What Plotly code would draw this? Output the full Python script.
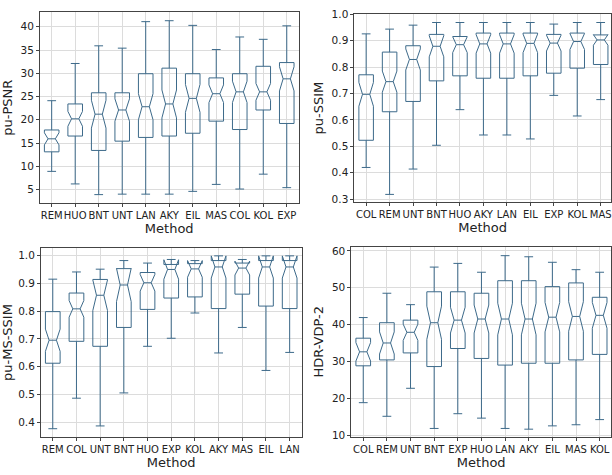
import plotly.graph_objects as go

# ---- pu-PSNR ----
psnr_methods = ["REM", "HUO", "BNT", "UNT", "LAN", "AKY", "EIL", "MAS", "COL", "KOL", "EXP"]
psnr_q1 = [13.1, 16.5, 13.4, 15.4, 16.2, 16.5, 17.1, 19.7, 17.9, 22.1, 19.2]
psnr_med = [15.9, 20.2, 21.2, 22.1, 22.8, 23.4, 24.6, 25.6, 26.0, 26.0, 28.8]
psnr_q3 = [17.8, 23.4, 25.8, 25.8, 29.9, 31.1, 29.9, 29.0, 29.9, 31.5, 32.3]
psnr_lo = [8.9, 6.2, 3.9, 4.0, 4.0, 4.0, 4.6, 6.1, 5.1, 8.3, 5.4]
psnr_hi = [24.1, 32.1, 35.9, 35.4, 41.1, 41.3, 40.3, 35.1, 37.8, 37.3, 40.2]
psnr_notch = [1.3, 1.6, 3.0, 2.4, 2.8, 3.0, 3.0, 1.9, 2.3, 1.8, 2.6]

# ---- pu-SSIM ----
ssim_methods = ["COL", "REM", "UNT", "BNT", "HUO", "AKY", "LAN", "EIL", "EXP", "KOL", "MAS"]
ssim_q1 = [0.523, 0.631, 0.670, 0.748, 0.767, 0.758, 0.758, 0.767, 0.777, 0.796, 0.810]
ssim_med = [0.697, 0.745, 0.829, 0.879, 0.885, 0.888, 0.888, 0.890, 0.891, 0.897, 0.903]
ssim_q3 = [0.771, 0.857, 0.881, 0.924, 0.916, 0.929, 0.929, 0.929, 0.924, 0.929, 0.922]
ssim_lo = [0.420, 0.318, 0.414, 0.504, 0.639, 0.543, 0.543, 0.528, 0.693, 0.615, 0.677]
ssim_hi = [0.926, 0.944, 0.959, 0.969, 0.969, 0.969, 0.969, 0.969, 0.963, 0.969, 0.969]
ssim_notch = [0.045, 0.04, 0.04, 0.04, 0.03, 0.035, 0.035, 0.035, 0.03, 0.03, 0.02]

# ---- pu-MS-SSIM ----
ms_methods = ["REM", "COL", "UNT", "BNT", "HUO", "EXP", "KOL", "AKY", "MAS", "EIL", "LAN"]
ms_q1 = [0.612, 0.691, 0.673, 0.741, 0.806, 0.847, 0.851, 0.809, 0.861, 0.818, 0.809]
ms_med = [0.695, 0.808, 0.857, 0.894, 0.902, 0.950, 0.952, 0.959, 0.955, 0.959, 0.959]
ms_q3 = [0.798, 0.865, 0.914, 0.953, 0.939, 0.968, 0.971, 0.982, 0.973, 0.982, 0.982]
ms_lo = [0.376, 0.486, 0.386, 0.505, 0.673, 0.702, 0.793, 0.649, 0.741, 0.586, 0.651]
ms_hi = [0.915, 0.941, 0.951, 0.982, 0.973, 0.986, 0.980, 0.994, 0.986, 0.994, 0.994]
ms_notch = [0.04, 0.03, 0.055, 0.06, 0.03, 0.035, 0.03, 0.04, 0.025, 0.04, 0.04]

# ---- HDR-VDP-2 ----
vdp_methods = ["COL", "REM", "UNT", "BNT", "EXP", "HUO", "LAN", "AKY", "EIL", "MAS", "KOL"]
vdp_q1 = [28.8, 30.4, 32.3, 28.6, 33.5, 30.8, 29.0, 29.5, 29.5, 30.4, 31.9]
vdp_med = [32.6, 35.0, 37.9, 40.5, 41.2, 41.5, 41.5, 41.5, 42.0, 42.2, 42.5]
vdp_q3 = [36.3, 40.5, 41.2, 48.9, 48.9, 48.5, 51.9, 51.9, 50.3, 51.3, 47.4]
vdp_lo = [18.8, 15.1, 22.7, 11.8, 15.8, 14.6, 11.8, 11.6, 12.5, 12.8, 14.2]
vdp_hi = [41.9, 48.5, 45.4, 55.6, 56.6, 54.2, 58.7, 58.4, 56.9, 54.9, 54.2]
vdp_notch = [2.5, 3.0, 2.2, 4.5, 3.5, 3.8, 4.3, 4.3, 4.0, 4.0, 3.5]

BOX_COLOR = "#3d6a8a"
FONT = "DejaVu Sans"

panels = [
    (psnr_methods, psnr_q1, psnr_med, psnr_q3, psnr_lo, psnr_hi, psnr_notch, "x", "y"),
    (ssim_methods, ssim_q1, ssim_med, ssim_q3, ssim_lo, ssim_hi, ssim_notch, "x2", "y2"),
    (ms_methods, ms_q1, ms_med, ms_q3, ms_lo, ms_hi, ms_notch, "x3", "y3"),
    (vdp_methods, vdp_q1, vdp_med, vdp_q3, vdp_lo, vdp_hi, vdp_notch, "x4", "y4"),
]

fig = go.Figure()
for m, q1, med, q3, lo, hi, nt, xa, ya in panels:
    fig.add_trace(go.Box(
        x=m, q1=q1, median=med, q3=q3, lowerfence=lo, upperfence=hi,
        notchspan=nt, notched=True, notchwidth=0.25,
        boxpoints=False, width=0.62, whiskerwidth=0.6,
        line=dict(color=BOX_COLOR, width=1),
        fillcolor="rgba(0,0,0,0)",
        xaxis=xa, yaxis=ya, showlegend=False, hoverinfo="skip",
    ))

W, H = 612, 475

def xd(a, b):
    return [a / W, min(b / W, 1.0)]

def yd(top, bottom):
    return [1 - bottom / H, 1 - top / H]

axis_common = dict(
    showline=True, linecolor="#444444", linewidth=1, mirror=True,
    showgrid=True, gridcolor="#dcdcdc", gridwidth=1,
    ticks="outside", ticklen=3, tickcolor="#444444",
    tickfont=dict(family=FONT, size=10, color="#222222"),
    zeroline=False,
)
x_common = dict(axis_common, tickangle=0, type="category")
y_common = dict(axis_common, tickfont=dict(family=FONT, size=10.5, color="#222222"))
title_font = dict(family=FONT, size=13, color="#222222")

layout = dict(
    width=W, height=H,
    margin=dict(l=0, r=0, t=0, b=0),
    paper_bgcolor="white", plot_bgcolor="white",
    font=dict(family=FONT),
    showlegend=False,
    xaxis=dict(domain=xd(40, 299), anchor="y", range=[-0.5, 10.5],
               title=dict(text="Method", font=title_font, standoff=3), **x_common),
    yaxis=dict(domain=yd(6, 201.7), anchor="x", range=[2.0, 43.2],
               tickvals=[5, 10, 15, 20, 25, 30, 35, 40],
               title=dict(text="pu-PSNR", font=title_font, standoff=5), **y_common),
    xaxis2=dict(domain=xd(355, 612), anchor="y2", range=[-0.5, 10.44],
                title=dict(text="Method", font=title_font, standoff=3), **x_common),
    yaxis2=dict(domain=yd(8.5, 200), anchor="x2", range=[0.29, 1.0],
                tickvals=[0.3, 0.4, 0.5, 0.6, 0.7, 0.8, 0.9, 1.0], tickformat=".1f",
                title=dict(text="pu-SSIM", font=title_font, standoff=5), **y_common),
    xaxis3=dict(domain=xd(41, 302), anchor="y3", range=[-0.5, 10.5],
                title=dict(text="Method", font=title_font, standoff=3), **x_common),
    yaxis3=dict(domain=yd(247.3, 440.3), anchor="x3", range=[0.346, 1.027],
                tickvals=[0.4, 0.5, 0.6, 0.7, 0.8, 0.9, 1.0], tickformat=".1f",
                title=dict(text="pu-MS-SSIM", font=title_font, standoff=5), **y_common),
    xaxis4=dict(domain=xd(352, 612), anchor="y4", range=[-0.5, 10.48],
                title=dict(text="Method", font=title_font, standoff=3), **x_common),
    yaxis4=dict(domain=yd(246, 440), anchor="x4", range=[9.55, 61.1],
                tickvals=[10, 20, 30, 40, 50, 60],
                title=dict(text="HDR-VDP-2", font=title_font, standoff=5), **y_common),
)
fig.update_layout(**layout)

fig.write_html(
    "out.html",
    config={"displayModeBar": False},
    post_script="document.body.style.margin='0';document.body.style.overflow='hidden';",
)
